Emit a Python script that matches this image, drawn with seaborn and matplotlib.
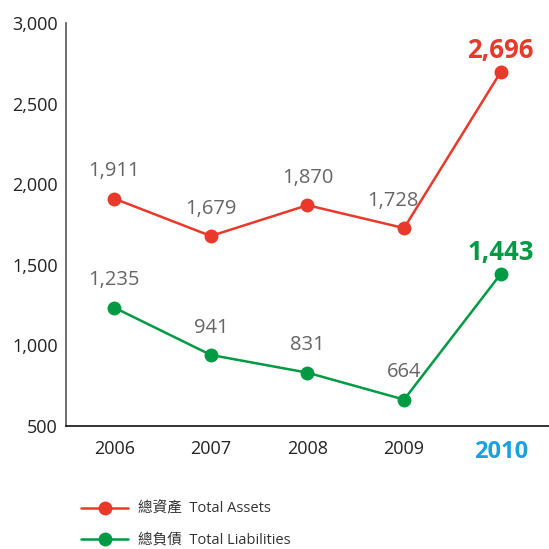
import matplotlib
matplotlib.use("Agg")
import matplotlib.pyplot as plt
import seaborn as sns
import pandas as pd

years = ["2006", "2007", "2008", "2009", "2010"]
total_assets = [1911, 1679, 1870, 1728, 2696]
total_liabilities = [1235, 941, 831, 664, 1443]
series_names = ["總資產  Total Assets", "總負債  Total Liabilities"]
y_ticks = [500, 1000, 1500, 2000, 2500, 3000]

RED = "#e8392b"
GREEN = "#009a44"
BLUE = "#1ba1e2"
GRAY = "#666666"

sns.set_theme(style="white")
plt.rcParams["font.family"] = ["Open Sans", "Noto Sans CJK TC", "DejaVu Sans"]

df = pd.DataFrame({
    "year": years * 2,
    "value": total_assets + total_liabilities,
    "series": [series_names[0]] * 5 + [series_names[1]] * 5,
})
df["x"] = list(range(5)) * 2

fig = plt.figure(figsize=(5.49, 5.49), dpi=100)
ax = fig.add_axes([0.120, 0.224, 0.88, 0.734])

sns.lineplot(data=df, x="x", y="value", hue="series", palette=[RED, GREEN],
             marker="o", markersize=10, markeredgewidth=0, linewidth=1.8,
             ax=ax, legend=True)

ax.set_xlim(-0.5, 4.5)
ax.set_ylim(500, 3000)
ax.set_yticks(y_ticks)
ax.set_yticklabels([f"{v:,}" for v in y_ticks], fontsize=13, color="#222222")
ax.set_xticks(range(5))
ax.set_xticklabels(years, fontsize=13, color="#222222")
lbl = ax.get_xticklabels()[-1]
lbl.set_color(BLUE)
lbl.set_fontweight("bold")
lbl.set_fontsize(17)
ax.tick_params(axis="both", length=0, pad=6)
ax.tick_params(axis="x", pad=10)
ax.set_xlabel("")
ax.set_ylabel("")
for s in ["top", "right"]:
    ax.spines[s].set_visible(False)
ax.spines["left"].set_color("#555555")
ax.spines["bottom"].set_color("#111111")
ax.spines["left"].set_linewidth(1.2)
ax.spines["bottom"].set_linewidth(1.2)

for k, (vals, col) in enumerate([(total_assets, RED), (total_liabilities, GREEN)]):
    for i, v in enumerate(vals):
        if i == 4:
            ax.annotate(f"{v:,}", (i, v), xytext=(0, 6), textcoords="offset points",
                        ha="center", va="bottom", fontsize=18.5, fontweight="bold", color=col)
        else:
            dx = -8 if (k == 0 and i == 3) else 0
            ax.annotate(f"{v:,}", (i, v), xytext=(dx, 12.5), textcoords="offset points",
                        ha="center", va="bottom", fontsize=14.5, color=GRAY)

leg = ax.legend(loc="upper left", bbox_to_anchor=(0.005, -0.155), frameon=False,
                fontsize=10.5, handlelength=3.2, labelspacing=1.1, handletextpad=0.7)
for t in leg.get_texts():
    t.set_color("#333333")

fig.savefig("out.png", dpi=100)
